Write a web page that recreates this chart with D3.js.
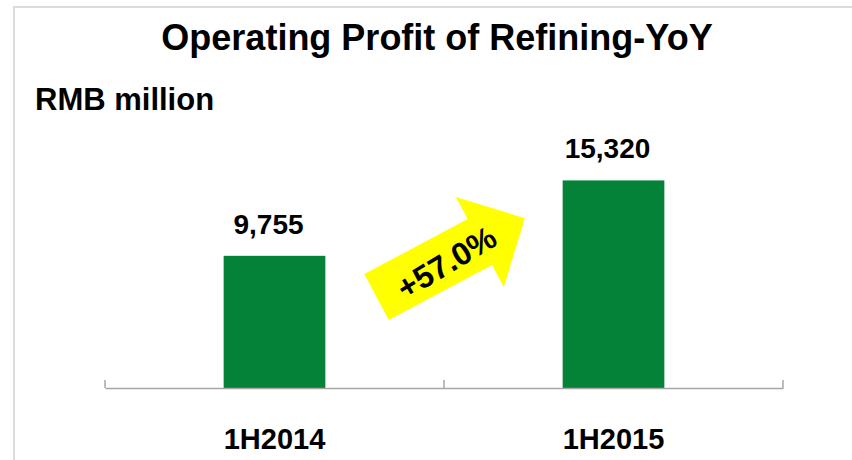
<!DOCTYPE html>
<html>
<head>
<meta charset="utf-8">
<script src="https://cdn.jsdelivr.net/npm/d3@7"></script>
<style>
  body { margin: 0; background: #fff; }
  svg { display: block; font-family: Arial, "Liberation Sans", sans-serif; }
</style>
</head>
<body>
<div id="chart"></div>
<script>

// data
var categories = ['1H2014', '1H2015'];
var profits = [9755, 15320];
var valueLabels = ['9,755', '15,320'];
var growthLabel = '+57.0%';

// svg properties
var W = 852, H = 460,
    axisY = 388, topY = 117,
    left = 105, right = 783;

var svg = d3.select('#chart').append('svg')
    .attr('width', W)
    .attr('height', H);

// frame
svg.append('path')
    .attr('d', 'M14,' + H + ' V7 H' + W)
    .attr('fill', 'none')
    .attr('stroke', '#dcdcdc')
    .attr('stroke-width', 2);

// title
svg.append('text')
    .attr('x', 437).attr('y', 50)
    .attr('text-anchor', 'middle')
    .attr('font-size', 36).attr('font-weight', 'bold')
    .text('Operating Profit of Refining-YoY');

svg.append('text')
    .attr('x', 35).attr('y', 110)
    .attr('font-size', 31).attr('font-weight', 'bold')
    .text('RMB million');

//************ SCALES ************
var xScale = d3.scaleBand()
    .domain(categories)
    .range([left, right])
    .paddingInner(0.7)
    .paddingOuter(0.35);

var yScale = d3.scaleLinear()
    .domain([0, 20000])
    .range([axisY, topY]);

//************ BARS ************
svg.selectAll('.bar')
    .data(profits).enter()
    .append('rect')
    .attr('class', 'bar')
    .attr('x', function(d, i) { return xScale(categories[i]); })
    .attr('y', function(d) { return yScale(d); })
    .attr('width', xScale.bandwidth())
    .attr('height', function(d) { return axisY - yScale(d); })
    .attr('fill', '#038238');

svg.selectAll('.val')
    .data(profits).enter()
    .append('text')
    .attr('class', 'val')
    .attr('x', function(d, i) { return xScale(categories[i]) + xScale.bandwidth() / 2 - 6; })
    .attr('y', function(d) { return yScale(d) - 22; })
    .attr('text-anchor', 'middle')
    .attr('font-size', 28).attr('font-weight', 'bold')
    .text(function(d, i) { return valueLabels[i]; });

//************ AXIS ************
var axis = d3.axisBottom(xScale).tickSize(0).tickPadding(40);
var gx = svg.append('g')
    .attr('transform', 'translate(0,' + axisY + ')')
    .call(axis);
gx.select('.domain').attr('stroke', '#a6a6a6').attr('stroke-width', 1.5);
gx.selectAll('.tick text')
    .attr('font-size', 29).attr('font-weight', 'bold')
    .attr('fill', '#000')
    .attr('font-family', 'Arial, "Liberation Sans", sans-serif')
    .attr('dy', '0.71em');

// category separators
var step = xScale.step();
var sepX = [left].concat(categories.map(function(c) { return xScale(c) - xScale.paddingInner() * step / 2 + step; }));
gx.selectAll('.sep')
    .data(sepX).enter()
    .append('line')
    .attr('x1', function(d) { return d; }).attr('x2', function(d) { return d; })
    .attr('y1', -8).attr('y2', 0)
    .attr('stroke', '#a6a6a6').attr('stroke-width', 1.5);

//************ ARROW ************
// arrow drawn in its own frame (along the arrow), then rotated
var arrowLen = 168, shaftHalf = 26, headStart = 117, headHalf = 51;
var arrowPts = [[0, -shaftHalf], [headStart, -shaftHalf], [headStart, -headHalf],
                [arrowLen, 0], [headStart, headHalf], [headStart, shaftHalf], [0, shaftHalf]];

var arrow = svg.append('g')
    .attr('transform', 'translate(376.5,297) rotate(-28)');
arrow.append('polygon')
    .attr('points', arrowPts.map(function(p) { return p.join(','); }).join(' '))
    .attr('fill', '#ffff00');
arrow.append('text')
    .attr('transform', 'translate(78,2) rotate(-3)')
    .attr('text-anchor', 'middle')
    .attr('dy', '0.36em')
    .attr('font-size', 32).attr('font-weight', 'bold')
    .text(growthLabel);

</script>
</body>
</html>
